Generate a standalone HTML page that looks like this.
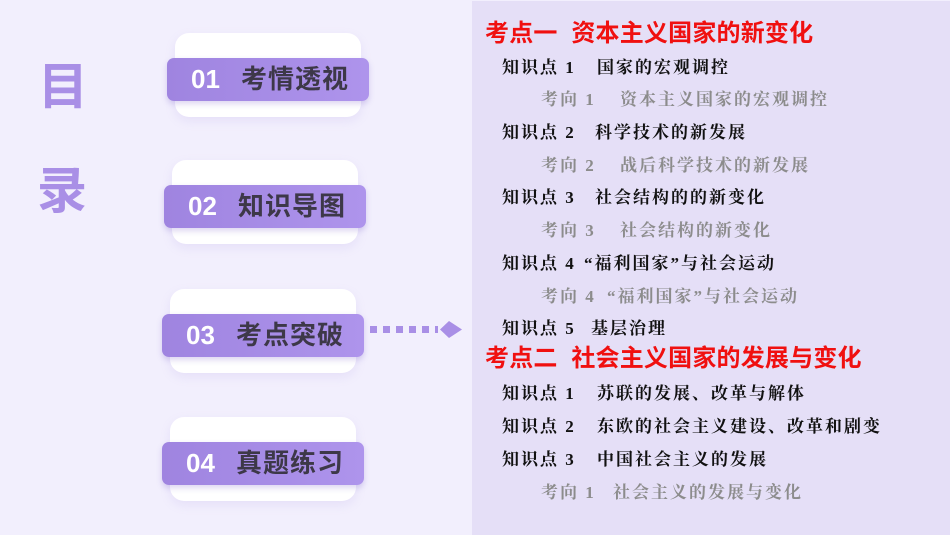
<!DOCTYPE html>
<html><head><meta charset="utf-8"><style>
*{margin:0;padding:0;box-sizing:border-box}
body{width:950px;height:535px;background:#f2effd;position:relative;overflow:hidden;font-family:"Liberation Sans","Noto Sans CJK SC",sans-serif}
.panel{position:absolute;left:472px;top:1px;width:478px;height:534px;background:#e5dff7}
.big{position:absolute;font-size:50px;font-weight:bold;color:#a98fe6;line-height:1}
.card{position:absolute;width:202px;height:84px}
.card .w{position:absolute;left:8px;right:8px;top:0;bottom:0;background:#fff;border-radius:14px;box-shadow:0 4px 10px rgba(160,140,220,.15)}
.card .p{position:absolute;left:0;right:0;top:25px;height:43px;background:linear-gradient(90deg,#9f84e0,#ae94ec);border-radius:7px;box-shadow:0 3px 6px rgba(120,90,200,.25)}
.card .n{position:absolute;left:24px;top:25px;line-height:43px;color:#fff;font-size:26px;font-weight:bold}
.card .t{position:absolute;left:74px;top:25px;line-height:43px;color:#3d3848;font-size:26px;font-weight:bold;letter-spacing:1px}
.l{position:absolute;font-family:"Liberation Serif","Noto Serif CJK SC",serif;font-size:17px;font-weight:bold;letter-spacing:2px;line-height:20px;white-space:nowrap;color:#111}
.g{color:#8c8c8c}
.h{position:absolute;left:485px;font-size:24px;font-weight:bold;color:#f01010;line-height:26px;white-space:nowrap;letter-spacing:0.2px}
</style></head><body>
<div class="panel"></div>
<div class="big" style="left:38px;top:62px">目</div>
<div class="big" style="left:37px;top:166px">录</div>

<div class="card" style="left:167px;top:33px"><div class="w"></div><div class="p"></div><div class="n">01</div><div class="t">考情透视</div></div>
<div class="card" style="left:164px;top:160px"><div class="w"></div><div class="p"></div><div class="n">02</div><div class="t">知识导图</div></div>
<div class="card" style="left:162px;top:289px"><div class="w"></div><div class="p"></div><div class="n">03</div><div class="t">考点突破</div></div>
<div class="card" style="left:162px;top:417px"><div class="w"></div><div class="p"></div><div class="n">04</div><div class="t">真题练习</div></div>

<svg style="position:absolute;left:370px;top:320px" width="95" height="20">
<g fill="#a98fe6"><rect x="0" y="6" width="7" height="7"/><rect x="13" y="6" width="7" height="7"/><rect x="26" y="6" width="7" height="7"/><rect x="39" y="6" width="7" height="7"/><rect x="52" y="6" width="7" height="7"/><rect x="65" y="6" width="3" height="7"/><polygon points="70,9.5 79,1 92,9.5 79,18"/></g></svg>

<div class="h" style="top:21px">考点一&nbsp;&nbsp;资本主义国家的新变化</div>
<div class="l" style="left:502px;top:58px">知识点 1</div><div class="l" style="left:597px;top:58px">国家的宏观调控</div>
<div class="l g" style="left:541px;top:90px">考向 1</div><div class="l g" style="left:620px;top:90px">资本主义国家的宏观调控</div>
<div class="l" style="left:502px;top:123px">知识点 2</div><div class="l" style="left:595px;top:123px">科学技术的新发展</div>
<div class="l g" style="left:541px;top:156px">考向 2</div><div class="l g" style="left:620px;top:156px">战后科学技术的新发展</div>
<div class="l" style="left:502px;top:188px">知识点 3</div><div class="l" style="left:595px;top:188px">社会结构的的新变化</div>
<div class="l g" style="left:541px;top:221px">考向 3</div><div class="l g" style="left:620px;top:221px">社会结构的新变化</div>
<div class="l" style="left:502px;top:254px">知识点 4</div><div class="l" style="left:584px;top:254px">“福利国家”与社会运动</div>
<div class="l g" style="left:541px;top:287px">考向 4</div><div class="l g" style="left:607px;top:287px">“福利国家”与社会运动</div>
<div class="l" style="left:502px;top:319px">知识点 5</div><div class="l" style="left:591px;top:319px">基层治理</div>
<div class="h" style="top:346px">考点二&nbsp;&nbsp;社会主义国家的发展与变化</div>
<div class="l" style="left:502px;top:384px">知识点 1</div><div class="l" style="left:597px;top:384px">苏联的发展、改革与解体</div>
<div class="l" style="left:502px;top:417px">知识点 2</div><div class="l" style="left:597px;top:417px">东欧的社会主义建设、改革和剧变</div>
<div class="l" style="left:502px;top:450px">知识点 3</div><div class="l" style="left:597px;top:450px">中国社会主义的发展</div>
<div class="l g" style="left:541px;top:483px">考向 1</div><div class="l g" style="left:613px;top:483px">社会主义的发展与变化</div>
</body></html>
